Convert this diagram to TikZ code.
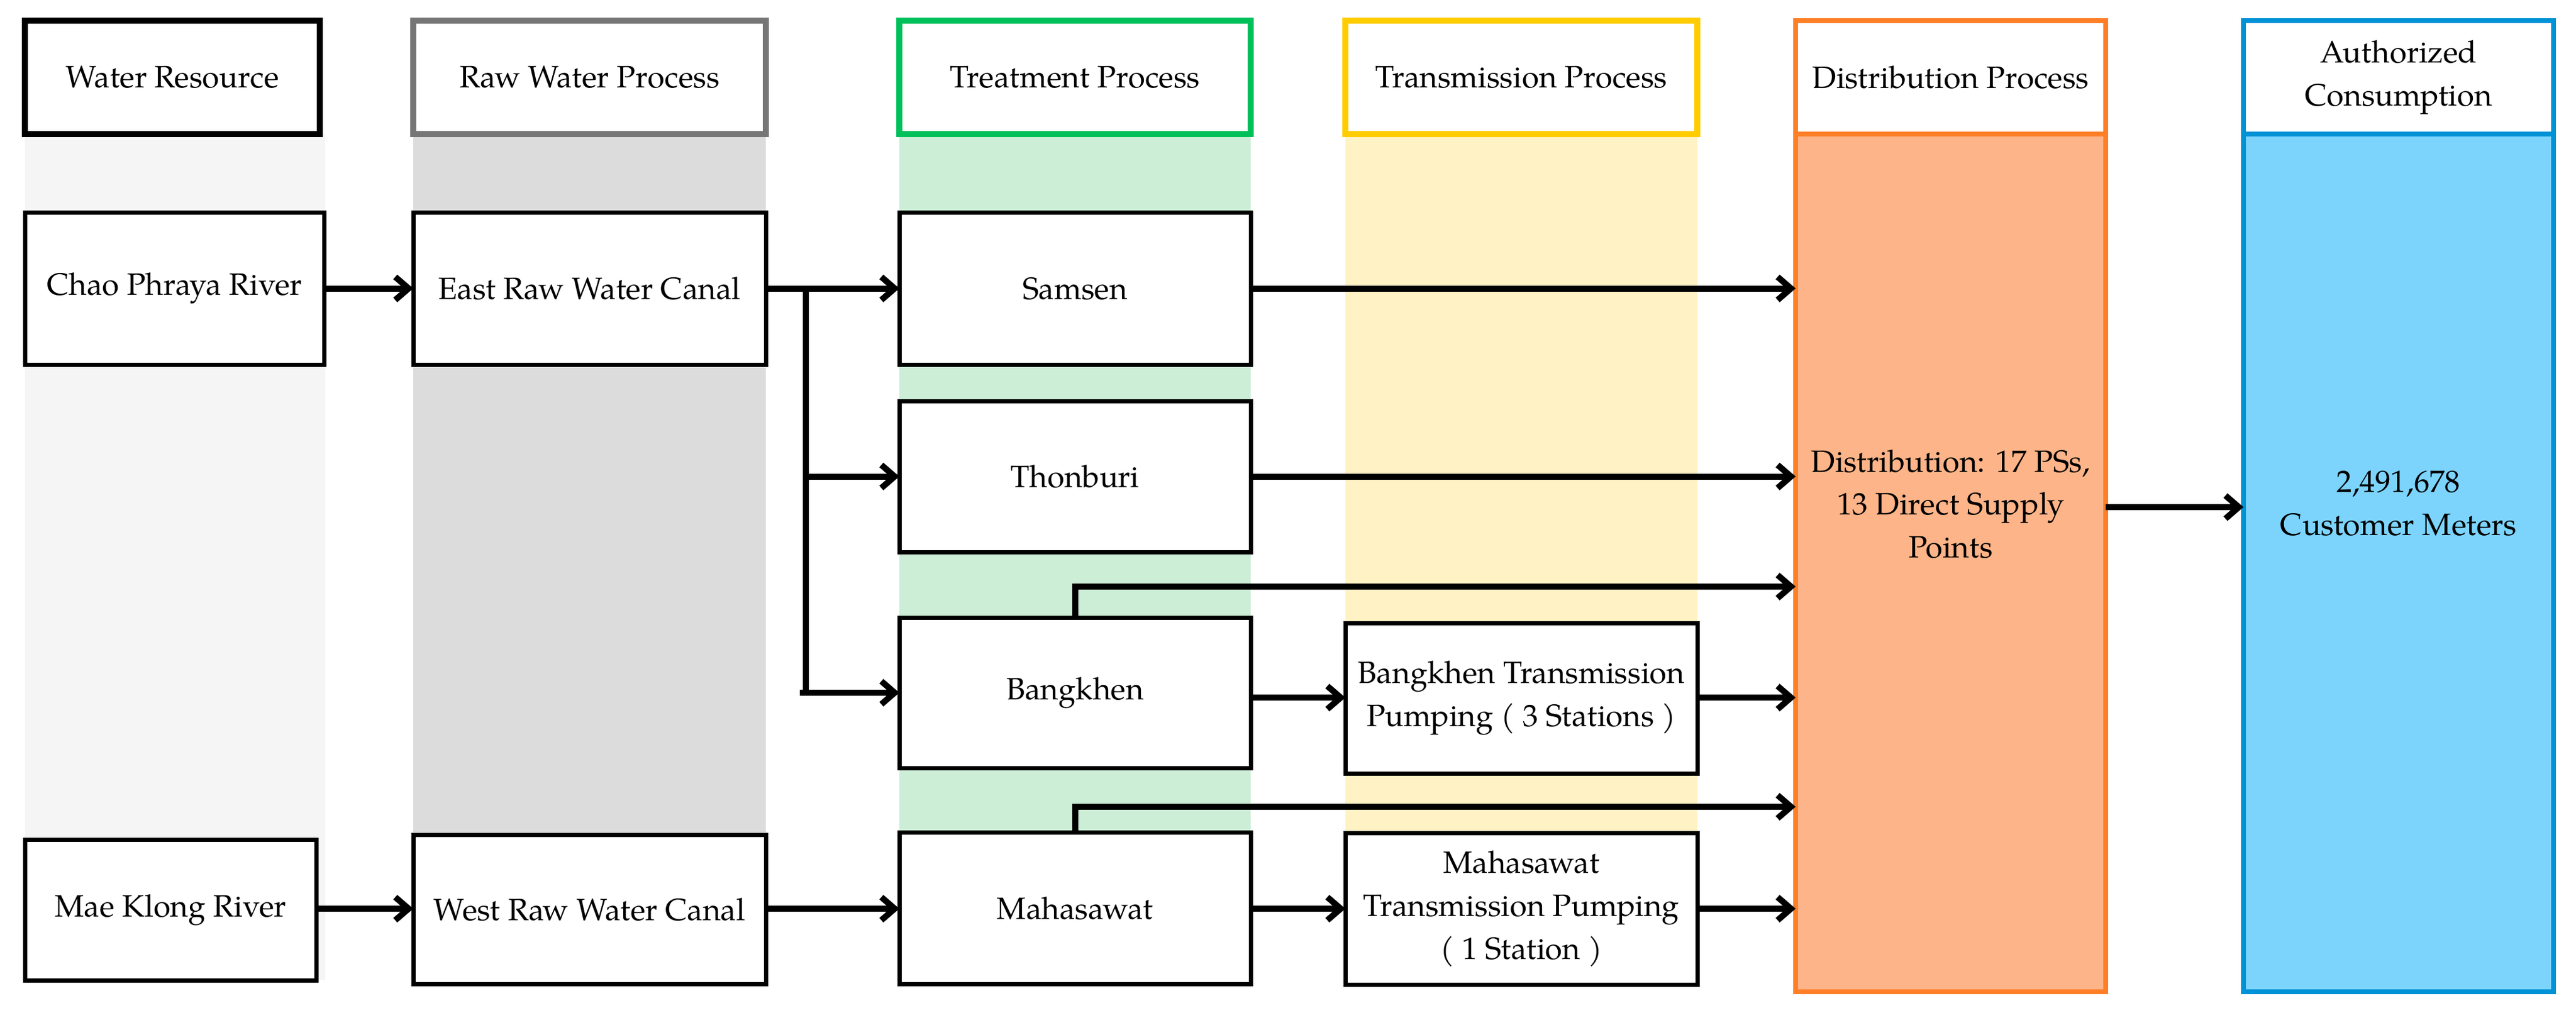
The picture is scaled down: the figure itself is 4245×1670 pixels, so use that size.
\documentclass[tikz,border=0pt]{standalone}
\usepackage{fontspec}
\setmainfont{TeX Gyre Pagella}
\usetikzlibrary{arrows.meta}
\definecolor{lgband}{RGB}{245,245,245}
\definecolor{gband}{RGB}{220,220,220}
\definecolor{rawgray}{RGB}{118,118,118}
\definecolor{greenb}{RGB}{0,192,90}
\definecolor{greenf}{RGB}{204,238,214}
\definecolor{yellowb}{RGB}{255,204,0}
\definecolor{yellowf}{RGB}{255,242,196}
\definecolor{orangeb}{RGB}{255,127,39}
\definecolor{orangef}{RGB}{253,180,136}
\definecolor{blueb}{RGB}{0,146,214}
\definecolor{bluef}{RGB}{124,212,253}
\tikzset{
  box/.style={draw=black, line width=0.7mm, fill=white, inner sep=0pt, outer sep=0pt, align=center},
  hdr/.style={line width=0.95mm, fill=white, inner sep=0pt, outer sep=0pt, align=center, minimum height=18.7mm},
  body/.style={line width=0.8mm, inner sep=0pt, outer sep=0pt, minimum width=51.1mm, minimum height=141.4mm},
  conn/.style={line width=1mm},
  arr/.style={conn, -{Straight Barb[length=2.2mm,width=3.8mm]}},
  txt/.style={inner sep=0pt, align=center}
}
\begin{document}
\begin{tikzpicture}[x=0.1mm,y=-0.1mm, font=\fontsize{14.5}{20.2}\selectfont]
\useasboundingbox[fill=white] (0,0) rectangle (4245,1670);
% column bands
\fill[lgband] (41,221) rectangle (536,1616);
\fill[gband] (681,221) rectangle (1262,1622);
\fill[greenf] (1482,221) rectangle (2061,1622);
\fill[yellowf] (2217,221) rectangle (2797,1623);
% distribution and consumption bodies
\node[body, draw=orangeb, fill=orangef] (dist) at (3214.5,928) {};
\node[body, draw=blueb, fill=bluef] (cons) at (3952.5,928) {};
\node[txt] (distT) at (3214.5,831) {Distribution: 17 PSs,\\13 Direct Supply\\Points};
\node[txt] (consT) at (3952.5,830) {2,491,678\\Customer Meters};
% headers
\node[hdr, draw=black, minimum width=48.6mm] (hWR) at (284,127.5) {Water Resource};
\node[hdr, draw=rawgray, minimum width=58.1mm] (hRW) at (971.5,127.5) {Raw Water Process};
\node[hdr, draw=greenb, minimum width=57.9mm] (hTP) at (1771.5,127.5) {Treatment Process};
\node[hdr, draw=yellowb, minimum width=58mm] (hTR) at (2507,127.5) {Transmission Process};
\node[hdr, draw=orangeb, line width=0.8mm, minimum width=51.1mm] (hDP) at (3214.5,127.5) {Distribution Process};
\node[hdr, draw=blueb, line width=0.8mm, minimum width=51.1mm] (hAC) at (3952.5,127.5) {Authorized\\Consumption};
% boxes
\node[box, minimum width=49.3mm, minimum height=25.1mm] (cp) at (287.5,475.5) {Chao Phraya River};
\node[box, minimum width=58.1mm, minimum height=25.1mm] (east) at (971.5,475.5) {East Raw Water Canal};
\node[box, minimum width=57.9mm, minimum height=25.1mm] (sam) at (1771.5,475.5) {Samsen};
\node[box, minimum width=57.9mm, minimum height=24.9mm] (thon) at (1771.5,785.5) {Thonburi};
\node[box, minimum width=57.9mm, minimum height=24.8mm] (bang) at (1771.5,1142) {Bangkhen};
\node[box, minimum width=58mm, minimum height=24.8mm] (btp) at (2507,1151) {Bangkhen Transmission\\Pumping ( 3 Stations )};
\node[box, minimum width=57.9mm, minimum height=25mm] (maha) at (1771.5,1497) {Mahasawat};
\node[box, minimum width=58mm, minimum height=25mm] (mtp) at (2507,1498) {Mahasawat\\Transmission Pumping\\( 1 Station )};
\node[box, minimum width=48mm, minimum height=23.2mm] (mk) at (281,1500) {Mae Klong River};
\node[box, minimum width=58.1mm, minimum height=24.6mm] (west) at (971.5,1499) {West Raw Water Canal};
% helper coordinates
\coordinate (br) at (1328,475.5);
\coordinate (bs) at (1318,1142);
\coordinate (yb) at (0,967);
\coordinate (yk) at (0,1150);
\coordinate (ym) at (0,1330);
\coordinate (yw) at (0,1498);
\coordinate (yc) at (0,836);
% connectors
\draw[arr] (cp) -- (east);
\draw[arr] (east) -- (sam);
\draw[arr] (br) |- (thon.west);
\draw[conn] (br) -- (br |- bs);
\draw[arr] (bs) -- (bang.west);
\draw[arr] (sam) -- (sam -| dist.west);
\draw[arr] (thon) -- (thon -| dist.west);
\draw[arr] (bang.north) |- (yb -| dist.west);
\draw[arr] (bang.east |- yk) -- (btp.west |- yk);
\draw[arr] (btp.east |- yk) -- (yk -| dist.west);
\draw[arr] (maha.north) |- (ym -| dist.west);
\draw[arr] (mk.east |- yw) -- (west.west |- yw);
\draw[arr] (west.east |- yw) -- (maha.west |- yw);
\draw[arr] (maha.east |- yw) -- (mtp.west |- yw);
\draw[arr] (mtp.east |- yw) -- (yw -| dist.west);
\draw[arr] (dist.east |- yc) -- (cons.west |- yc);
\end{tikzpicture}
\end{document}
